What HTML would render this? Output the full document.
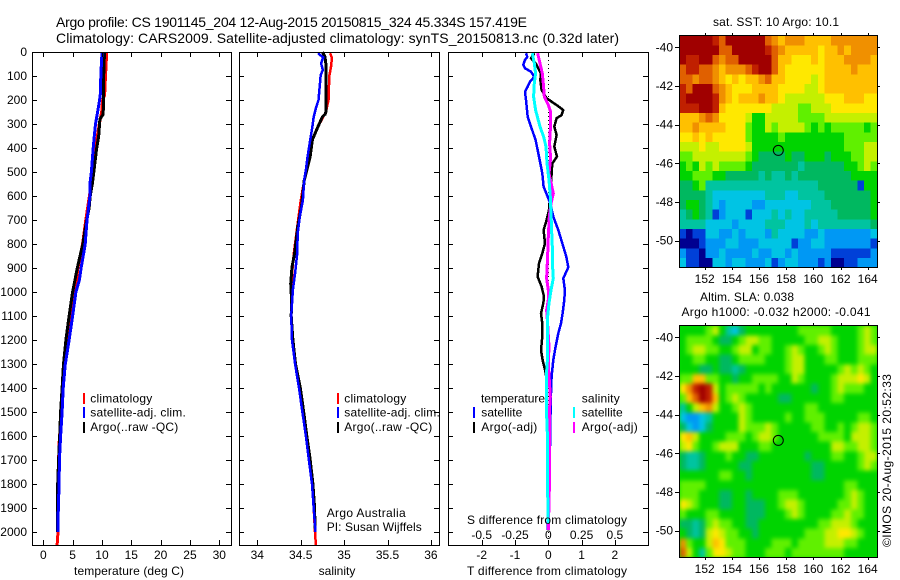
<!DOCTYPE html>
<html lang="en">
<head>
<meta charset="utf-8">
<title>Argo profile</title>
<style>
html,body{margin:0;padding:0;background:#fff;width:900px;height:580px;overflow:hidden}
svg{display:block;font-family:"Liberation Sans",Arial,sans-serif;font-size:12px;fill:#000}
text{fill:#000}
.t{font-size:14px}
</style>
</head>
<body>
<svg id="chart" xmlns="http://www.w3.org/2000/svg" width="900" height="580" viewBox="0 0 900 580">
<defs>
<clipPath id="sst-clip"><rect x="679.5" y="35.5" width="198" height="232"/></clipPath>
<clipPath id="sla-clip"><rect x="679.5" y="325.5" width="198" height="232"/></clipPath>
<filter id="sla-blur" x="-5%" y="-5%" width="110%" height="110%" color-interpolation-filters="sRGB"><feGaussianBlur stdDeviation="2.2"/></filter>
</defs>
<rect width="900" height="580" fill="#fff"/>
<text class="t" x="56" y="27" textLength="471" lengthAdjust="spacing">Argo profile: CS 1901145_204 12-Aug-2015 20150815_324 45.334S 157.419E</text>
<text class="t" x="56" y="43" textLength="563" lengthAdjust="spacing">Climatology: CARS2009. Satellite-adjusted climatology: synTS_20150813.nc (0.32d later)</text>

<g id="marks1"></g>
<g id="marks2"></g>
<g id="marks3"></g>
<g id="axes"></g>

<text x="129" y="575" text-anchor="middle" textLength="110" lengthAdjust="spacing">temperature (deg C)</text>
<text x="337" y="575" text-anchor="middle">salinity</text>
<text x="467" y="575" textLength="160" lengthAdjust="spacing">T difference from climatology</text>
<text x="467" y="524" textLength="160" lengthAdjust="spacing">S difference from climatology</text>

<g>
<rect x="83" y="393" width="2" height="11" fill="#f00"/>
<rect x="83" y="407" width="2" height="11" fill="#00f"/>
<rect x="83" y="422" width="2" height="11" fill="#000"/>
<text x="90.3" y="402.7" textLength="62" lengthAdjust="spacing">climatology</text>
<text x="90.3" y="416.7" textLength="95.5" lengthAdjust="spacing">satellite-adj. clim.</text>
<text x="90.3" y="431" textLength="88" lengthAdjust="spacing">Argo(..raw -QC)</text>
</g>
<g>
<rect x="337" y="393" width="2" height="11" fill="#f00"/>
<rect x="337" y="407" width="2" height="11" fill="#00f"/>
<rect x="337" y="422" width="2" height="11" fill="#000"/>
<text x="344.3" y="402.7" textLength="62" lengthAdjust="spacing">climatology</text>
<text x="344.3" y="416.7" textLength="95.5" lengthAdjust="spacing">satellite-adj. clim.</text>
<text x="344.3" y="431" textLength="88" lengthAdjust="spacing">Argo(..raw -QC)</text>
<text x="326.7" y="517" textLength="79" lengthAdjust="spacing">Argo Australia</text>
<text x="326.7" y="531" textLength="95" lengthAdjust="spacing">PI: Susan Wijffels</text>
</g>
<g>
<text x="481" y="402.7" textLength="64" lengthAdjust="spacing">temperature</text>
<rect x="473" y="407" width="2" height="11" fill="#00f"/>
<rect x="473" y="422" width="2" height="11" fill="#000"/>
<text x="481.3" y="416.7" textLength="41" lengthAdjust="spacing">satellite</text>
<text x="481.3" y="431" textLength="56" lengthAdjust="spacing">Argo(-adj)</text>
<text x="581.7" y="402.7" textLength="38" lengthAdjust="spacing">salinity</text>
<rect x="573" y="407" width="2" height="11" fill="#0ff"/>
<rect x="573" y="422" width="2" height="11" fill="#f0f"/>
<text x="581.7" y="416.7" textLength="41" lengthAdjust="spacing">satellite</text>
<text x="581.7" y="431" textLength="56" lengthAdjust="spacing">Argo(-adj)</text>
</g>

<text x="776" y="26" text-anchor="middle" textLength="126" lengthAdjust="spacing">sat. SST: 10 Argo: 10.1</text>
<text x="747" y="301" text-anchor="middle" textLength="94" lengthAdjust="spacing">Altim. SLA: 0.038</text>
<text x="776" y="316" text-anchor="middle" textLength="189" lengthAdjust="spacing">Argo h1000: -0.032 h2000: -0.041</text>

<g id="sst-map" clip-path="url(#sst-clip)"></g>
<g clip-path="url(#sla-clip)">
<rect x="679" y="325" width="199" height="233" fill="#00dc00"/>
<g id="sla-map" filter="url(#sla-blur)"></g>
</g>
<g id="map-axes"></g>
<text transform="translate(891,547) rotate(-90)" textLength="173" lengthAdjust="spacing">©IMOS 20-Aug-2015 20:52:33</text>
</svg>

<script>
// ---- profile axis ticks
const depthTicks = [0,100,200,300,400,500,600,700,800,900,1000,1100,1200,1300,1400,1500,1600,1700,1800,1900,2000];
const tempTicks = [0,5,10,15,20,25,30];
const salTicks = [34,34.5,35,35.5,36];
const tDiffTicks = [-2,-1,0,1,2];
const sDiffTicks = [-0.5,-0.25,0,0.25,0.5];
const lonTicks = [152,154,156,158,160,162,164];
const latTicks = [-40,-42,-44,-46,-48,-50];
const floatLon = 157.419;
const floatLat = -45.334;

// ---- temperature profiles (depth m, deg C)
const tempClimDepth = [0,50,100,180,200,250,300,400,500,600,700,800,900,1000,1100,1200,1300,1400,1500,1650,1800,2000,2055];
const tempClim = [10.8,10.7,10.6,10.45,10.1,9.95,9.55,8.9,8.5,7.85,7.25,6.7,5.9,5.4,4.65,4.15,3.65,3.3,3.05,2.65,2.6,2.5,2.35];
const tempArgoDepth = [0,50,100,200,260,280,350,400,500,550,600,650,700,750,800,850,900,1000,1100,1200,1300,1400,1500,1600,1700,1800,1900,2000];
const tempArgo = [10.45,10.35,10.3,10.3,10.2,9.65,9.45,9.1,8.6,8.35,8,7.8,7.4,7.05,6.75,6.25,5.8,5,4.4,3.85,3.45,3.2,2.95,2.8,2.6,2.45,2.4,2.4];
const tempSatDepth = [0,50,100,170,200,250,300,350,400,500,550,600,650,700,750,800,850,900,950,1000,1100,1200,1300,1400,1500,1600,1700,1800,1900,2000];
const tempSat = [10,9.9,9.8,9.75,9.6,9.25,8.9,8.7,8.5,8.2,7.95,7.95,7.7,7.45,7.3,7.15,6.8,6.45,6.15,5.55,5,4.4,3.75,3.4,3.2,2.95,2.75,2.7,2.55,2.5];

// ---- salinity profiles (depth m, psu)
const salClimDepth = [5,25,60,100,200,250,270,310,365,435,535,620,730,840,925,990,1100,1200,1300,1400,1500,1600,1700,1800,1900,2000,2055];
const salClim = [34.84,34.86,34.85,34.83,34.82,34.79,34.76,34.7,34.635,34.61,34.54,34.5,34.46,34.42,34.4,34.4,34.39,34.4,34.435,34.48,34.52,34.56,34.595,34.63,34.65,34.665,34.675];
const salArgoDepth = [0,20,50,250,260,270,310,365,435,535,640,730,840,895,965,1035,1100,1200,1300,1400,1500,1600,1700,1800,1900,1985];
const salArgo = [34.75,34.78,34.79,34.79,34.78,34.75,34.7,34.635,34.61,34.54,34.51,34.465,34.43,34.4,34.385,34.395,34.39,34.41,34.44,34.495,34.535,34.57,34.61,34.64,34.66,34.665];
const salSatDepth = [5,12,22,47,75,96,200,228,270,311,367,436,492,533,617,686,756,839,922,990,1100,1200,1300,1400,1500,1600,1700,1800,1900,2000];
const salSat = [34.7,34.72,34.76,34.735,34.755,34.73,34.705,34.68,34.65,34.635,34.61,34.58,34.56,34.54,34.525,34.49,34.465,34.46,34.435,34.41,34.39,34.4,34.435,34.48,34.52,34.56,34.595,34.63,34.65,34.67];

// ---- differences from climatology
const dTempSatDepth = [5,20,33,54,68,82,103,124,144,165,200,270,311,367,436,506,561,603,631,686,742,811,853,897,943,992,1033,1089,1131,1172,1228,1283,1353,1422,1547,1644,1728,1825,1992];
const dTempSat = [-.67,-.63,-.7,-.75,-.7,-.52,-.42,-.55,-.62,-.7,-.67,-.62,-.52,-.38,-.28,-.18,-.14,-.02,.06,.15,.3,.45,.54,.6,.45,.5,.48,.43,.38,.3,.22,.15,.1,.08,.06,.05,.02,0,-.02];
const dTempArgoDepth = [5,26,47,68,89,117,158,193,221,242,263,276,311,346,394,436,464,506,561,603,658,700,742,797,839,881,936,978,1019,1047,1089,1131,1186,1242,1283,1325,1353,1400,1506];
const dTempArgo = [-.42,-.52,-.38,-.3,-.22,-.24,-.2,-.05,.25,.45,.4,.25,.18,.25,.18,.26,.12,.1,.08,.05,.02,-.05,-.14,-.1,-.18,-.28,-.32,-.2,-.13,-.15,-.22,-.18,-.18,-.22,-.17,-.1,-.06,-.07,-.07];
const dSalArgoDepth = [5,47,89,144,186,221,249,297,325,381,443,506,589,631,686,769,853,943,992,1033,1075,1131,1228,1297,1367,1436,1506,1644,1769,1881,1992];
const dSalArgo = [-.08,-.0625,-.045,-.035,-.03,0,.0175,.015,.015,.01,.0175,.005,.0375,.02,.0075,0,-.005,-.0125,0,0,-.0125,-.005,.005,0,.0075,.015,.0075,.01,.01,.005,0];
const dSalSatDepth = [5,47,89,130,186,242,311,353,394,464,533,603,672,742,811,873,943,992,1047,1103,1158,1269,1353,1478,1617,1714,1825,1964];
const dSalSat = [-.12,-.105,-.095,-.105,-.11,-.095,-.0625,-.035,-.0175,-.01,.005,.015,.02,.025,.03,.03,.0375,.02,.005,-.005,-.005,-.005,-.015,-.015,-.005,-.005,-.005,0];

// ---- SST map: colour-scale level per 0.5 degree cell (north to south)
const sstRows = [
[14,14,14,14,14,13,12,14,14,14,14,14,14,12,11,10,11,11,11,10,10,10,10,11,11,11,11,11,11,11],
[14,14,14,14,14,14,12,12,14,14,14,14,14,13,12,11,10,10,10,10,10,9,10,10,11,10,11,11,11,11],
[14,13,13,14,14,12,11,12,12,14,14,14,14,14,12,10,10,9,9,9,10,9,10,10,10,11,11,11,11,10],
[12,13,13,12,12,11,10,11,11,11,12,13,14,14,12,10,9,9,9,9,9,9,10,10,10,10,11,10,10,10],
[12,12,11,12,12,11,10,9,10,9,10,10,11,12,10,10,9,9,9,9,8,9,10,10,10,10,10,10,10,10],
[13,12,14,14,14,12,11,10,9,9,9,10,10,10,10,9,9,9,9,8,8,9,10,10,10,10,10,10,10,10],
[13,14,14,14,14,13,11,10,9,10,10,10,11,10,10,9,8,8,8,8,8,8,9,9,9,10,10,10,9,9],
[13,13,13,14,14,13,10,9,9,9,9,9,9,9,8,8,8,8,7,7,8,8,8,9,9,9,9,9,9,9],
[10,10,10,11,12,11,9,9,9,9,8,6,6,8,8,8,8,8,7,7,7,7,8,8,8,8,8,8,8,8],
[10,10,11,10,10,10,10,9,9,9,7,6,6,8,7,8,8,8,8,7,6,7,6,7,7,7,7,7,6,7],
[9,9,10,9,10,9,9,9,9,9,7,6,6,6,6,7,6,6,6,6,6,6,6,6,6,7,7,7,7,7],
[8,8,8,9,8,8,9,9,9,9,8,6,6,6,6,6,6,6,6,6,6,6,6,6,6,7,7,7,8,8],
[7,7,8,8,8,8,8,8,8,8,7,6,5,5,5,5,6,5,5,6,6,6,5,6,6,6,7,7,8,8],
[6,7,6,8,7,8,7,7,7,7,6,5,5,5,5,5,5,5,4,5,5,5,5,5,5,6,6,7,8,7],
[6,6,7,7,7,6,6,5,5,5,5,5,4,5,4,4,5,4,5,5,5,5,5,5,5,5,6,6,6,6],
[5,5,6,7,4,4,4,4,4,4,4,4,4,4,4,4,4,4,4,4,4,5,5,5,5,5,5,1,6,6],
[5,5,5,5,4,3,3,3,3,3,3,3,3,4,4,4,3,3,4,4,4,4,5,5,5,5,5,5,5,6],
[5,6,6,5,4,3,2,3,3,3,3,2,2,3,3,3,3,3,3,3,4,4,4,5,5,5,5,5,5,6],
[4,5,6,5,4,1,2,3,3,3,1,3,3,3,4,3,4,3,3,4,4,4,4,4,5,5,5,5,5,6],
[4,4,4,4,3,3,3,3,2,3,3,3,3,4,4,4,3,3,3,4,3,4,4,4,4,4,4,4,4,5],
[1,0,1,1,3,3,2,2,3,2,3,3,3,2,4,3,3,3,3,2,2,3,2,2,2,2,2,2,2,3],
[0,0,0,1,2,2,2,3,3,2,2,2,3,3,3,3,3,1,2,2,3,3,2,2,2,2,2,2,2,1],
[2,1,1,0,2,2,3,2,2,2,2,3,2,2,3,3,2,3,2,2,2,2,2,1,1,1,1,1,1,2],
[3,1,1,0,0,3,3,2,3,3,2,2,2,3,1,2,3,3,2,2,2,1,2,0,0,1,1,2,2,2]
];

// ---- SLA map: colour-scale level per 0.5 degree cell (north to south)
const slaRows = [
[6,6,6,6,7,8,6,4,3,5,6,6,6,6,6,6,6,6,7,7,7,7,7,6,6,6,6,7,8,7],
[6,7,7,7,7,6,5,5,6,7,8,8,7,7,6,6,6,6,6,7,7,8,8,7,6,6,6,7,8,7],
[6,7,8,8,7,7,6,6,7,8,8,6,7,7,6,6,7,8,7,6,6,7,8,7,6,6,6,7,8,8],
[6,6,7,7,6,6,5,5,6,7,7,7,7,6,6,6,7,8,8,6,6,6,7,7,6,6,6,7,7,7],
[6,6,6,5,5,6,5,5,4,5,6,6,6,6,6,6,7,8,8,6,6,6,6,6,7,8,7,8,7,6],
[7,7,10,10,7,7,6,6,5,6,6,7,7,7,7,6,6,8,7,6,6,6,6,7,8,8,8,9,8,6],
[9,11,13,14,13,8,6,7,7,7,7,7,6,7,6,6,6,6,6,6,5,6,6,7,8,7,7,7,6,6],
[7,10,12,14,13,10,6,7,8,7,6,6,6,6,6,5,5,6,6,6,6,6,6,7,7,6,6,6,6,6],
[4,6,8,10,11,8,6,6,7,8,7,6,6,6,6,6,6,6,6,7,7,6,6,6,6,6,6,6,6,6],
[3,2,2,3,4,6,6,6,6,8,7,6,6,6,6,6,7,6,6,7,7,7,6,6,6,6,6,7,7,6],
[5,3,2,3,5,6,6,6,6,8,7,7,7,8,7,6,6,6,6,6,7,7,6,6,7,6,7,8,8,7],
[9,10,8,6,6,6,6,7,7,7,6,7,8,8,7,6,6,6,6,6,6,7,7,7,7,6,8,8,8,7],
[8,9,7,6,6,7,8,8,8,6,6,6,7,7,6,6,6,6,6,6,6,6,6,8,8,7,7,8,8,7],
[5,4,4,5,6,6,6,7,6,6,5,5,6,6,6,6,6,6,6,5,6,6,6,7,7,6,6,7,8,8],
[5,4,4,5,6,6,6,6,6,5,5,6,6,6,6,6,6,6,6,6,5,5,6,6,6,6,6,7,8,7],
[6,6,6,6,6,6,7,7,6,6,5,6,6,6,6,6,6,6,6,6,5,5,6,6,6,6,6,6,6,6],
[7,7,7,7,6,6,6,6,6,6,6,6,6,6,6,6,6,6,6,6,6,6,6,6,6,7,7,6,6,6],
[7,7,7,6,6,6,5,5,6,6,5,6,6,6,6,7,7,7,6,6,6,6,6,6,6,7,8,7,6,6],
[9,8,7,6,6,6,5,5,6,6,5,5,5,6,6,7,8,8,7,6,6,6,6,6,7,7,8,7,6,6],
[7,6,6,6,7,7,6,6,6,6,5,5,5,6,6,6,7,8,7,6,6,6,6,7,7,8,7,7,6,6],
[5,5,4,5,7,8,7,7,6,6,5,5,6,6,6,6,6,6,6,6,6,7,7,8,8,8,7,6,6,6],
[6,5,4,5,8,9,8,7,7,6,6,5,6,6,6,6,6,6,6,7,7,7,8,8,9,9,8,7,6,6],
[11,7,6,6,8,10,9,7,7,7,6,6,6,6,7,7,7,6,7,7,7,7,8,8,8,7,7,6,6,6],
[12,8,6,4,7,9,9,8,7,7,6,6,6,7,7,7,6,7,7,7,7,7,7,7,7,6,6,6,6,6]
];

const NS = 'http://www.w3.org/2000/svg';
function mk(tag, parent) {
  const el = document.createElementNS(NS, tag);
  parent.appendChild(el);
  return el;
}

// axis functions
function yDepth(d) { return 52 + 0.24 * d; }
function xTemp(t) { return 43.3 + 5.867 * t; }
function xSal(s) { return 257.3 + 86.8 * (s - 34); }
function xDT(v) { return 548.3 + 33.3 * v; }
function xDS(v) { return 548.3 + 133.2 * v; }
function xLon(lon) { return 704.7 + 13.58 * (lon - 152); }
function yLatSst(lat) { return 47.3 + 19.33 * (-40 - lat); }
function yLatSla(lat) { return 337.3 + 19.33 * (-40 - lat); }

function profilePoints(depths, values, xf) {
  return depths.map(function (d, i) { return xf(values[i]).toFixed(1) + ',' + yDepth(d).toFixed(1); }).join(' ');
}
function drawLine(parent, depths, values, xf, color, width) {
  const el = mk('polyline', parent);
  el.setAttribute('points', profilePoints(depths, values, xf));
  el.setAttribute('fill', 'none');
  el.setAttribute('stroke', color);
  el.setAttribute('stroke-width', width);
  el.setAttribute('shape-rendering', 'crispEdges');
  return el;
}

const marks1 = document.getElementById('marks1');
const marks2 = document.getElementById('marks2');
const marks3 = document.getElementById('marks3');

let ln;
ln = drawLine(marks1, tempClimDepth, tempClim, xTemp, '#f00', 3);


ln = drawLine(marks1, tempArgoDepth, tempArgo, xTemp, '#000', 3);


ln = drawLine(marks1, tempSatDepth, tempSat, xTemp, '#00f', 3);



ln = drawLine(marks2, salClimDepth, salClim, xSal, '#f00', 2.5);


ln = drawLine(marks2, salArgoDepth, salArgo, xSal, '#000', 3);


ln = drawLine(marks2, salSatDepth, salSat, xSal, '#00f', 2.5);



const zero = mk('line', marks3);


zero.setAttribute('x1', xDT(0));
zero.setAttribute('x2', xDT(0));
zero.setAttribute('y1', 52);
zero.setAttribute('y2', 545);
zero.setAttribute('stroke', '#000');
zero.setAttribute('stroke-width', 1);
zero.setAttribute('stroke-dasharray', '1 3');
zero.setAttribute('shape-rendering', 'crispEdges');

ln = drawLine(marks3, dTempArgoDepth, dTempArgo, xDT, '#000', 2.5);


ln = drawLine(marks3, dTempSatDepth, dTempSat, xDT, '#00f', 2.5);


ln = drawLine(marks3, dSalArgoDepth, dSalArgo, xDS, '#f0f', 3);


ln = drawLine(marks3, dSalSatDepth, dSalSat, xDS, '#0ff', 3);



// frames and ticks
function frame(parent, x, y, w, h) {
  const r = mk('rect', parent);
  r.setAttribute('x', x);
  r.setAttribute('y', y);
  r.setAttribute('width', w);
  r.setAttribute('height', h);
  r.setAttribute('fill', 'none');
  r.setAttribute('stroke', '#000');
  r.setAttribute('stroke-width', 1);
  r.setAttribute('shape-rendering', 'crispEdges');
  return r;
}
function seg(parent, x1, y1, x2, y2) {
  const l = mk('line', parent);
  l.setAttribute('x1', Math.round(x1) + (x1 === x2 ? 0.5 : 0));
  l.setAttribute('x2', Math.round(x2) + (x1 === x2 ? 0.5 : 0));
  l.setAttribute('y1', Math.round(y1) + (y1 === y2 ? 0.5 : 0));
  l.setAttribute('y2', Math.round(y2) + (y1 === y2 ? 0.5 : 0));
  l.setAttribute('stroke', '#000');
  l.setAttribute('stroke-width', 1);
  l.setAttribute('shape-rendering', 'crispEdges');
  return l;
}
function label(parent, x, y, str, anchor) {
  const t = mk('text', parent);
  t.setAttribute('x', x);
  t.setAttribute('y', y);
  t.setAttribute('text-anchor', anchor);
  t.textContent = str;
  return t;
}

const axes = document.getElementById('axes');
const panels = [
  { l: 32, r: 231, xf: xTemp, ticks: tempTicks, name: 'temperature' },
  { l: 239, r: 439, xf: xSal, ticks: salTicks, name: 'salinity' },
  { l: 448, r: 648, xf: xDT, ticks: tDiffTicks, name: 't-difference' }
];
const T_LEN = 5;
panels.forEach(function (p) {
  const fr = frame(axes, p.l + 0.5, 52.5, p.r - p.l, 493);
  
  
  p.ticks.forEach(function (v) {
    const x = p.xf(v);
    const a = seg(axes, x, 52, x, 52 + T_LEN);
    
    
    const b = seg(axes, x, 545, x, 545 - T_LEN);
    
    
    const t = label(axes, x, 559, String(v), 'middle');
    
    
  });
  depthTicks.forEach(function (d) {
    const y = yDepth(d);
    const a = seg(axes, p.l, y, p.l + T_LEN, y);
    
    
    const b = seg(axes, p.r, y, p.r - T_LEN, y);
    
    
  });
});
depthTicks.forEach(function (d) {
  const t = label(axes, 27, yDepth(d) + 4, String(d), 'end');
  
  
});
sDiffTicks.forEach(function (v) {
  const t = label(axes, xDS(v), 539, String(v), 'middle');
  
  
});

// heatmaps
const scale = ['#000090','#0040d8','#0098f4','#00c4e4','#00c4a0','#00b860','#00d400','#60f000','#c4f000','#ffe800','#ffc000','#f09000','#e06000','#c02000','#a00000'];
const LON0 = 150.13, DLON = 14.57 / 30, LAT0 = -39.4, DLAT = 0.5;
function drawMap(group, rows, yLat, nameStr) {
  rows.forEach(function (row, r) {
    row.forEach(function (v, c) {
      const x0 = xLon(LON0 + c * DLON), x1 = xLon(LON0 + (c + 1) * DLON);
      const y0 = yLat(LAT0 - r * DLAT), y1 = yLat(LAT0 - (r + 1) * DLAT);
      const cell = mk('rect', group);
      
      
      cell.setAttribute('x', x0.toFixed(2));
      cell.setAttribute('y', y0.toFixed(2));
      cell.setAttribute('width', (x1 - x0 + 0.4).toFixed(2));
      cell.setAttribute('height', (y1 - y0 + 0.4).toFixed(2));
      cell.setAttribute('fill', scale[Math.max(0, Math.min(scale.length - 1, Math.round(v)))]);
      cell.setAttribute('shape-rendering', 'crispEdges');
    });
  });
}
drawMap(document.getElementById('sst-map'), sstRows, yLatSst, 'sst-cell');
drawMap(document.getElementById('sla-map'), slaRows, yLatSla, 'sla-cell');

const mapAxes = document.getElementById('map-axes');
[{ top: 35, bottom: 267, yLat: yLatSst, labelY: 283, name: 'sst' },
 { top: 325, bottom: 557, yLat: yLatSla, labelY: 573, name: 'sla' }].forEach(function (m) {
  const fr = frame(mapAxes, 679.5, m.top + 0.5, 198, m.bottom - m.top);
  
  
  lonTicks.forEach(function (lon) {
    const x = xLon(lon);
    const a = seg(mapAxes, x, m.top - 2, x, m.top);
    
    
    const b = seg(mapAxes, x, m.bottom + 1, x, m.bottom + 3);
    
    
    const t = label(mapAxes, x, m.labelY, String(lon), 'middle');
    
    
  });
  latTicks.forEach(function (lat) {
    const y = m.yLat(lat);
    const a = seg(mapAxes, 675, y, 679, y);
    
    
    const b = seg(mapAxes, 878, y, 880, y);
    
    
    const t = label(mapAxes, 673, y + 4, String(lat), 'end');
    
    
  });
  const c = mk('circle', mapAxes);
  
  
  c.setAttribute('cx', xLon(floatLon).toFixed(1));
  c.setAttribute('cy', m.yLat(floatLat).toFixed(1));
  c.setAttribute('r', 5);
  c.setAttribute('fill', 'none');
  c.setAttribute('stroke', '#000');
  c.setAttribute('stroke-width', 1);
});
</script>
</body>
</html>
